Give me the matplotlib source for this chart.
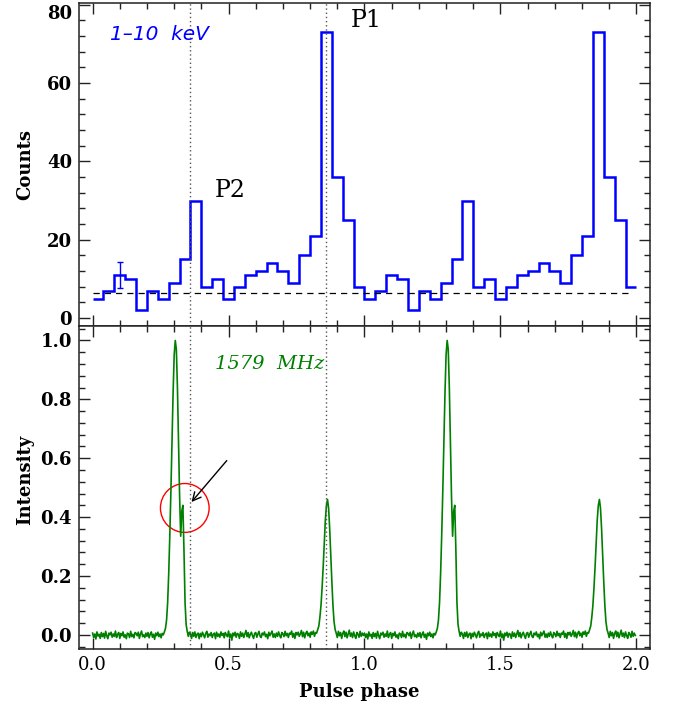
import numpy as np
import matplotlib.pyplot as plt
from matplotlib.patches import Ellipse
from matplotlib.ticker import MultipleLocator

# X-ray counts per 0.04 phase bin (one cycle, drawn twice)
xray_counts = [5, 7, 11, 10, 2, 7, 5, 9, 15, 30,
               8, 10, 5, 8, 11, 12, 14, 12, 9, 16,
               21, 73, 36, 25, 8]
bin_width = 0.04
err_phase = 0.10
err_count = 11
err_size = 3.3
background = 6.5

# radio profile, one value per 0.004 in phase (one cycle, drawn twice)
radio_step = 0.004
radio_int = [
    0.006, -0.009, 0.003, -0.014, 0.010, -0.004, 0.002, -0.012, 0.008, -0.006,
    0.005, -0.011, 0.012, -0.003, -0.013, 0.006, 0.000, 0.009, -0.008, 0.003,
    -0.005, 0.013, -0.009, 0.002, 0.008, -0.012, 0.005, -0.003, 0.010, -0.008,
    0.000, -0.013, 0.006, 0.003, -0.009, 0.012, -0.006, 0.002, -0.010, 0.008,
    0.005, -0.003, 0.009, -0.012, 0.003, 0.013, -0.006, 0.000, -0.009, 0.006,
    -0.005, 0.008, -0.010, 0.003, 0.010, -0.008, 0.002, -0.015, 0.006, -0.003,
    0.009, -0.006, 0.003, -0.010, 0.005, 0.000, 0.010, 0.022, 0.050, 0.110,
    0.210, 0.340, 0.490, 0.660, 0.820, 0.950, 1.000, 0.970, 0.840, 0.650,
    0.470, 0.335, 0.420, 0.440, 0.290, 0.110, 0.035, 0.012, -0.005, 0.009,
    0.003, -0.012, 0.008, -0.005, 0.010, -0.009, 0.002, 0.006, -0.013, 0.005,
    -0.006, 0.009, 0.000, -0.010, 0.005, 0.012, -0.008, 0.003, -0.003, 0.008,
    -0.009, 0.002, 0.006, -0.013, 0.009, -0.005, 0.003, -0.008, 0.010, -0.002,
    0.005, -0.010, 0.008, 0.000, -0.006, 0.013, -0.009, 0.003, -0.018, 0.006,
    -0.003, 0.009, -0.008, 0.005, 0.002, -0.012, 0.010, -0.005, 0.006, -0.009,
    0.003, 0.015, -0.006, 0.008, -0.010, 0.002, 0.009, -0.003, -0.012, 0.005,
    0.008, -0.008, 0.003, 0.012, -0.005, -0.009, 0.006, 0.000, 0.010, -0.006,
    0.002, -0.013, 0.009, -0.003, 0.005, 0.013, -0.008, 0.003, -0.009, 0.006,
    -0.005, 0.010, -0.002, -0.010, 0.008, 0.003, -0.006, 0.012, -0.003, 0.005,
    -0.009, 0.006, 0.002, 0.013, -0.008, 0.005, -0.012, 0.008, 0.000, 0.009,
    -0.005, 0.003, 0.015, -0.006, 0.009, -0.010, 0.005, 0.012, -0.003, 0.006,
    -0.008, 0.010, 0.002, 0.013, -0.005, 0.008, 0.006, 0.018, 0.030, 0.060,
    0.100, 0.160, 0.230, 0.310, 0.390, 0.440, 0.460, 0.430, 0.360, 0.270,
    0.180, 0.100, 0.045, 0.018, 0.006, -0.009, 0.012, -0.003, 0.008, -0.012,
    0.005, 0.013, -0.006, 0.009, -0.010, 0.003, 0.016, -0.005, 0.006, -0.009,
    0.010, -0.003, -0.012, 0.008, 0.002, -0.008, 0.012, -0.005, 0.006, -0.002,
]

peak_lines = [0.36, 0.86]

counts2 = xray_counts + xray_counts
edges = np.arange(len(counts2) + 1) * bin_width
radio2 = radio_int + radio_int
phase = np.arange(len(radio2)) * radio_step

fig = plt.figure(figsize=(6.73, 7.11), dpi=100)
ax1 = fig.add_axes([0.1174, 0.5415, 0.8484, 0.4543])
ax2 = fig.add_axes([0.1174, 0.0872, 0.8484, 0.4543])

def style_axis(ax):
	for sp in ax.spines.values():
		sp.set_linewidth(1.1)
		sp.set_color('#222222')
	ax.tick_params(which='both', direction='in', top=True, right=True, width=1.0, color='#222222')
	ax.tick_params(which='major', length=8)
	ax.tick_params(which='minor', length=4)
	ax.tick_params(axis='y', pad=5)
	ax.xaxis.set_major_locator(MultipleLocator(0.5))
	ax.xaxis.set_minor_locator(MultipleLocator(0.1))
	ax.set_xlim(-0.05, 2.05)
	for lab in ax.get_yticklabels():
		lab.set_family('DejaVu Serif')
		lab.set_weight('bold')
		lab.set_fontsize(13)

# top panel: X-ray
ax1.stairs(counts2, edges, baseline=None, color='#0000ff', lw=1.8)
ax1.errorbar([err_phase], [err_count], yerr=[err_size], color='#0000ff', lw=1, capsize=2.5, capthick=1)
ax1.plot([0, 1.985], [background, background], color='black', lw=0.9, linestyle=(0, (5, 4)))
for p in peak_lines:
	ax1.axvline(p, color='#555555', lw=1, linestyle=(0, (1, 2)))
ax1.set_ylim(-2, 80.4)
ax1.yaxis.set_major_locator(MultipleLocator(20))
ax1.yaxis.set_minor_locator(MultipleLocator(4))
ax1.tick_params(labelbottom=False)
style_axis(ax1)
fig.canvas.draw()
ylabs = ax1.get_yticklabels()
for lab in ylabs:
	if lab.get_text() == '80':
		lab.set_va('top')
ax1.text(0.246, 72.4, '1–10  keV', color='#0000ff', fontsize=14.5, style='italic',
	family='DejaVu Sans', ha='center', va='center')
ax1.text(1.006, 76, 'P1', fontsize=17, family='DejaVu Serif', ha='center', va='center')
ax1.text(0.507, 32.5, 'P2', fontsize=17, family='DejaVu Serif', ha='center', va='center')

# bottom panel: radio
ax2.plot(phase, radio2, color='#008000', lw=1.2)
for p in peak_lines:
	ax2.axvline(p, color='#555555', lw=1, linestyle=(0, (1, 2)))
ax2.set_ylim(-0.048, 1.049)
ax2.yaxis.set_major_locator(MultipleLocator(0.2))
ax2.yaxis.set_minor_locator(MultipleLocator(0.04))
ax2.yaxis.set_major_formatter(plt.FormatStrFormatter('%.1f'))
ax2.xaxis.set_major_formatter(plt.FormatStrFormatter('%.1f'))
style_axis(ax2)
for lab in ax2.get_xticklabels():
	lab.set_family('DejaVu Serif')
	lab.set_fontsize(13)
ax2.tick_params(axis='x', pad=5)
ax2.text(0.65, 0.92, '1579  MHz', color='#008000', fontsize=14, style='italic',
	family='DejaVu Serif', ha='center', va='center')
ax2.add_patch(Ellipse((0.339, 0.431), 0.179, 0.166, fill=False, edgecolor='red', lw=1))
ax2.annotate('', xy=(0.357, 0.444), xytext=(0.500, 0.599),
	arrowprops=dict(arrowstyle='->', color='black', lw=1, mutation_scale=15))

fig.text(25 / 673, 1 - 165 / 711, 'Counts', rotation=90, family='DejaVu Serif',
	weight='bold', fontsize=13, ha='center', va='center')
fig.text(25 / 673, 1 - 480 / 711, 'Intensity', rotation=90, family='DejaVu Serif',
	weight='bold', fontsize=13, ha='center', va='center')
fig.text(359 / 673, 1 - 692 / 711, 'Pulse phase', family='DejaVu Serif',
	weight='bold', fontsize=13, ha='center', va='center')

plt.savefig('out.png', dpi=100)
